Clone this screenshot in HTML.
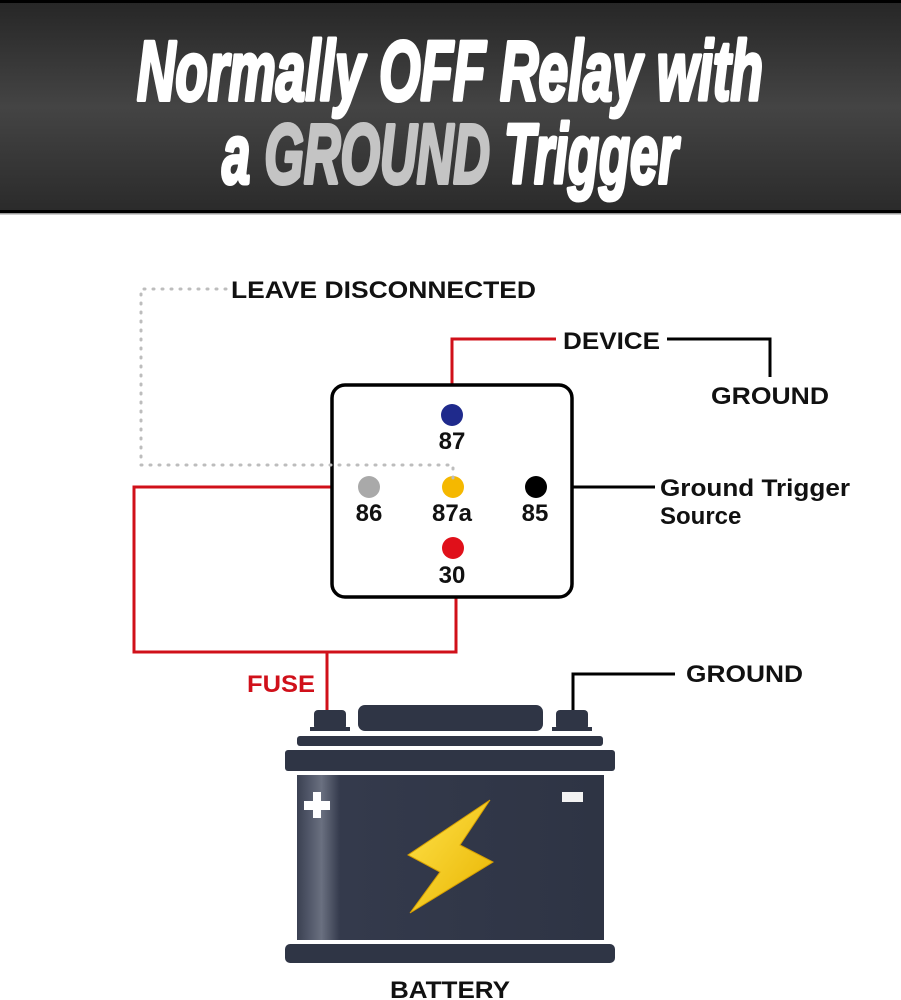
<!DOCTYPE html>
<html><head><meta charset="utf-8"><style>
html,body{margin:0;padding:0;background:#fff;}
svg{display:block;}
</style></head><body>
<svg width="901" height="1000" viewBox="0 0 901 1000" xmlns="http://www.w3.org/2000/svg">
<defs>
<linearGradient id="hg" x1="0" y1="0" x2="0" y2="1">
<stop offset="0" stop-color="#262626"/><stop offset="0.5" stop-color="#444"/><stop offset="1" stop-color="#2a2a2a"/>
</linearGradient>
<linearGradient id="bolt" x1="0" y1="0" x2="1" y2="1">
<stop offset="0" stop-color="#ffe24a"/><stop offset="1" stop-color="#e8b400"/>
</linearGradient>
<linearGradient id="body" x1="0" y1="0" x2="1" y2="0">
<stop offset="0" stop-color="#3a4052"/><stop offset="0.08" stop-color="#6a7080"/><stop offset="0.14" stop-color="#343a4c"/><stop offset="1" stop-color="#2e3444"/>
</linearGradient>
</defs>
<rect x="0" y="0" width="901" height="214" fill="url(#hg)"/>
<rect x="0" y="0" width="901" height="3" fill="#000"/>
<rect x="0" y="210" width="901" height="3" fill="#000"/>
<rect x="0" y="213" width="901" height="1.5" fill="#999"/>
<g font-family="'Liberation Sans Narrow','Liberation Sans',sans-serif" font-weight="bold" font-style="italic" font-size="84" stroke-width="4" stroke-linejoin="round">
<text x="137" y="100" fill="#fff" stroke="#fff" textLength="626" lengthAdjust="spacingAndGlyphs">Normally OFF Relay with</text>
<text x="222" y="183" fill="#fff" stroke="#fff" textLength="456" lengthAdjust="spacingAndGlyphs">a <tspan fill="#c4c4c4" stroke="#c4c4c4">GROUND</tspan> Trigger</text>
</g>

<!-- red wires -->
<g fill="none" stroke="#d0101a" stroke-width="3">
<polyline points="452,384 452,339 556,339"/>
<polyline points="331,487 134,487 134,652 456,652 456,598"/>
<line x1="327" y1="652" x2="327" y2="715"/>
</g>
<!-- black wires -->
<g fill="none" stroke="#000" stroke-width="3">
<polyline points="667,339 770,339 770,377"/>
<line x1="573" y1="487" x2="655" y2="487"/>
<polyline points="573,712 573,674 675,674"/>
</g>

<!-- relay -->
<rect x="332" y="385" width="240" height="212" rx="13" fill="#fff" stroke="#000" stroke-width="3.5"/>
<circle cx="452" cy="415" r="11" fill="#1f2a8c"/>
<circle cx="369" cy="487" r="11" fill="#a9a9a9"/>
<circle cx="453" cy="487" r="11" fill="#f5b800"/>
<circle cx="536" cy="487" r="11" fill="#000"/>
<circle cx="453" cy="548" r="11" fill="#e0101a"/>

<!-- dotted (on top) -->
<polyline points="226,289 141,289 141,465 453,465 453,480" fill="none" stroke="#bdbdbd" stroke-width="3" stroke-dasharray="1,8" stroke-linecap="round"/>

<g font-family="'Liberation Sans',sans-serif" font-weight="bold" fill="#111">
<g font-size="24" text-anchor="middle">
<text x="452" y="449">87</text>
<text x="369" y="521">86</text>
<text x="452" y="521">87a</text>
<text x="535" y="521">85</text>
<text x="452" y="583">30</text>
</g>
<g font-size="24">
<text x="231" y="298" textLength="305" lengthAdjust="spacingAndGlyphs">LEAVE DISCONNECTED</text>
<text x="563" y="349" textLength="97" lengthAdjust="spacingAndGlyphs">DEVICE</text>
<text x="711" y="404" textLength="118" lengthAdjust="spacingAndGlyphs">GROUND</text>
<text x="660" y="496" textLength="190" lengthAdjust="spacingAndGlyphs">Ground Trigger</text>
<text x="660" y="524">Source</text>
<text x="686" y="682" textLength="117" lengthAdjust="spacingAndGlyphs">GROUND</text>
<text x="247" y="692" fill="#d0101a" textLength="68" lengthAdjust="spacingAndGlyphs">FUSE</text>
<text x="450" y="998" text-anchor="middle" textLength="120" lengthAdjust="spacingAndGlyphs">BATTERY</text>
</g>
</g>

<!-- battery -->
<g fill="#2f3545">
<rect x="314" y="710" width="32" height="20" rx="4"/>
<rect x="310" y="727" width="40" height="4"/>
<rect x="358" y="705" width="185" height="26" rx="7"/>
<rect x="556" y="710" width="32" height="20" rx="4"/>
<rect x="552" y="727" width="40" height="4"/>
<rect x="297" y="736" width="306" height="10" rx="3"/>
<rect x="285" y="750" width="330" height="21" rx="3"/>
<rect x="285" y="944" width="330" height="19" rx="5"/>
</g>
<rect x="297" y="775" width="307" height="165" fill="url(#body)"/>
<rect x="313" y="792" width="8" height="26" fill="#fff"/>
<rect x="304" y="801" width="26" height="9" fill="#fff"/>
<rect x="562" y="792" width="21" height="10" fill="#f2f2f2"/>
<polygon points="490,800 408,855 440,872 410,913 493,862 460,845" fill="url(#bolt)" stroke="#d8a000" stroke-width="1"/>
</svg>
</body></html>
